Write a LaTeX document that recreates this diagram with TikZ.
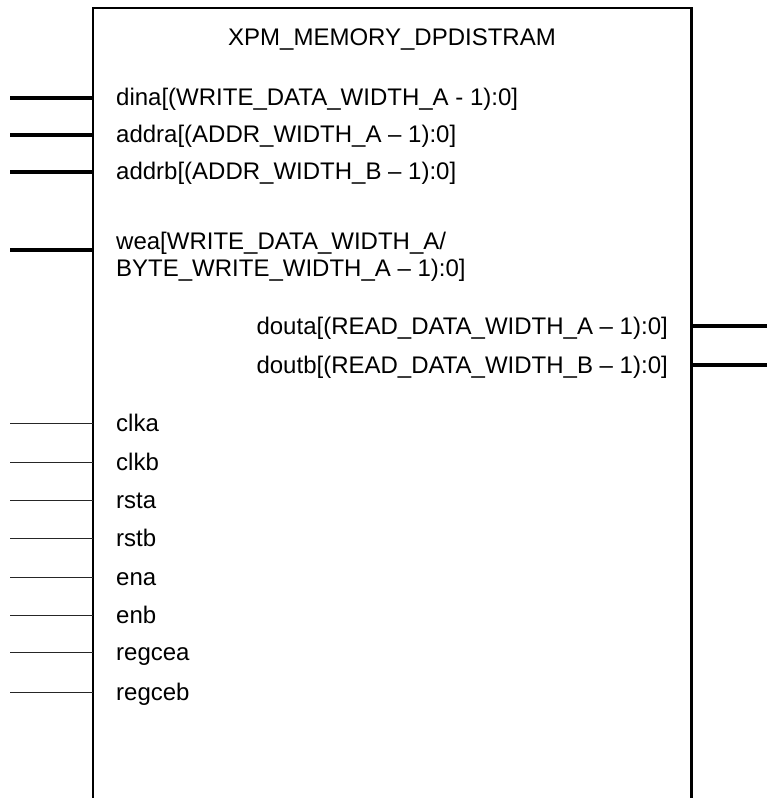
\documentclass[tikz,border=0pt]{standalone}
\usepackage{fontspec}
\setmainfont{Liberation Sans}
\usetikzlibrary{positioning, calc}

\begin{document}
\begin{tikzpicture}[
    x=1pt, y=-1pt,
    bus/.style={line width=4pt, draw=black},
    wire/.style={line width=1pt, draw=black!85},
    portlabel/.style={anchor=base west, inner sep=0pt, font=\fontsize{24}{27}\selectfont},
    outlabel/.style={anchor=base east, inner sep=0pt, font=\fontsize{24}{27}\selectfont}
]
    \useasboundingbox (0,0) rectangle (767,798);

    % Block outline (open at the bottom)
    \node[minimum width=598pt, minimum height=800pt, inner sep=0pt, anchor=north west] (blk) at (93,8) {};
    \draw[line width=2.5pt] (blk.south west) -- (blk.north west) -- (blk.north east) -- (blk.south east);
    \node[anchor=base, inner sep=0pt, font=\fontsize{24}{27}\selectfont] (title) at (392,45) {XPM\_MEMORY\_DPDISTRAM};

    % Bus inputs
    \node[portlabel] (dina)  at (116,105) {dina[(WRITE\_DATA\_WIDTH\_A - 1):0]};
    \node[portlabel] (addra) at (116,142) {addra[(ADDR\_WIDTH\_A – 1):0]};
    \node[portlabel] (addrb) at (116,179) {addrb[(ADDR\_WIDTH\_B – 1):0]};
    \node[portlabel] (wea)   at (116,249) {wea[WRITE\_DATA\_WIDTH\_A/};
    \node[portlabel] (wea2)  at (116,276) {BYTE\_WRITE\_WIDTH\_A – 1):0]};
    \coordinate (dina-in)  at (10,98);
    \coordinate (addra-in) at (10,135);
    \coordinate (addrb-in) at (10,172);
    \coordinate (wea-in)   at (10,250);
    \foreach \p in {dina, addra, addrb, wea}
        \draw[bus] (\p-in) -- (\p-in -| blk.west);

    % Bus outputs
    \node[outlabel] (douta) at (668,334) {douta[(READ\_DATA\_WIDTH\_A – 1):0]};
    \node[outlabel] (doutb) at (668,373) {doutb[(READ\_DATA\_WIDTH\_B – 1):0]};
    \coordinate (douta-out) at (767,326);
    \coordinate (doutb-out) at (767,365);
    \draw[bus] (douta-out -| blk.east) -- (douta-out);
    \draw[bus] (doutb-out -| blk.east) -- (doutb-out);

    % Single-bit inputs
    \foreach \p/\y in {clka/423, clkb/462, rsta/500, rstb/538, ena/577, enb/615, regcea/652, regceb/692} {
        \node[portlabel] (\p) at (116,\y+8) {\p};
        \coordinate (\p-in) at (10,\y);
        \draw[wire] (\p-in) -- (\p-in -| blk.west);
    }
\end{tikzpicture}
\end{document}
